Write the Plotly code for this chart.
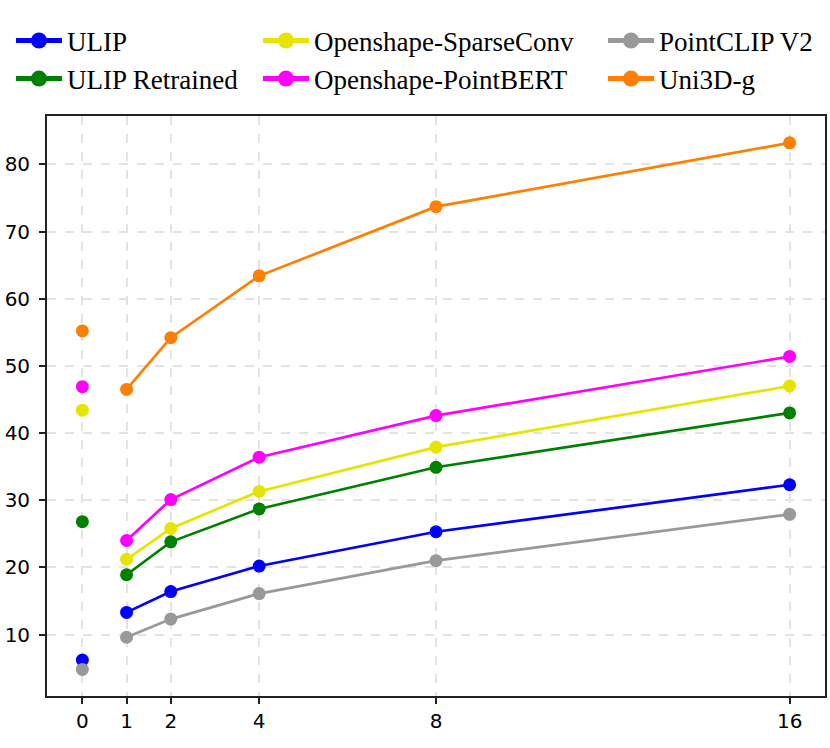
import plotly.graph_objects as go

shots = [0, 1, 2, 4, 8, 16]
tick_labels = ["0", "1", "2", "4", "8", "16"]

ulip = [6.2, 13.3, 16.4, 20.2, 25.3, 32.3]
ulip_retrained = [26.8, 18.9, 23.8, 28.7, 34.9, 43.0]
os_sparseconv = [43.4, 21.2, 25.8, 31.3, 37.9, 47.0]
os_pointbert = [46.9, 24.0, 30.1, 36.4, 42.6, 51.4]
pointclip_v2 = [4.8, 9.6, 12.3, 16.1, 21.0, 27.9]
uni3d_g = [55.2, 46.5, 54.2, 63.4, 73.7, 83.2]

series = [
    ("ULIP", ulip, "#0000ff", "legend"),
    ("ULIP Retrained", ulip_retrained, "#008000", "legend"),
    ("Openshape-SparseConv", os_sparseconv, "#e5e500", "legend2"),
    ("Openshape-PointBERT", os_pointbert, "#ff00ff", "legend2"),
    ("PointCLIP V2", pointclip_v2, "#999999", "legend3"),
    ("Uni3D-g", uni3d_g, "#ff7f00", "legend3"),
]

fig = go.Figure()
for name, vals, color, leg in series:
    # zero-shot point (not connected)
    fig.add_trace(go.Scatter(x=shots[:1], y=vals[:1], mode="markers",
                             marker=dict(color=color, size=13),
                             showlegend=False, hoverinfo="skip"))
    # few-shot line
    fig.add_trace(go.Scatter(x=shots[1:], y=vals[1:], mode="lines+markers",
                             line=dict(color=color, width=2.7),
                             marker=dict(color=color, size=13),
                             showlegend=False, name=name))
    # legend entry
    fig.add_trace(go.Scatter(x=[None], y=[None], mode="lines+markers",
                             line=dict(color=color, width=5),
                             marker=dict(color=color, size=16),
                             name=name, legend=leg, showlegend=True))

legend_common = dict(
    font=dict(family="Liberation Serif, Times New Roman, serif", size=27, color="black"),
    orientation="v", bgcolor="rgba(0,0,0,0)", borderwidth=0,
    xref="paper", yref="container", yanchor="top", xanchor="left",
    itemwidth=46, tracegroupgap=0,
)

fig.update_layout(
    width=830, height=748,
    margin=dict(l=47, r=5, t=116, b=52, autoexpand=False),
    plot_bgcolor="white", paper_bgcolor="white",
    font=dict(family="DejaVu Sans", size=20, color="black"),
    legend=dict(x=-0.0463, y=0.978, **legend_common),
    legend2=dict(x=0.2712, y=0.978, **legend_common),
    legend3=dict(x=0.7147, y=0.978, **legend_common),
    xaxis=dict(
        range=[-0.8, 16.8], tickmode="array", tickvals=shots, ticktext=tick_labels,
        showgrid=True, gridcolor="#e3e3e3", griddash="dash", gridwidth=1.5,
        showline=True, linecolor="#222", linewidth=1.8, mirror=True,
        ticks="outside", ticklen=6, tickwidth=1.5, tickcolor="#222",
        zeroline=False, tickfont=dict(size=20), automargin=False,
    ),
    yaxis=dict(
        range=[0.85, 87.2], tickmode="array", tickvals=[10, 20, 30, 40, 50, 60, 70, 80],
        showgrid=True, gridcolor="#e3e3e3", griddash="dash", gridwidth=1.5,
        showline=True, linecolor="#222", linewidth=1.8, mirror=True,
        ticks="outside", ticklen=6, tickwidth=1.5, tickcolor="#222",
        zeroline=False, tickfont=dict(size=20), automargin=False,
        ticklabelstandoff=5,
    ),
)

fig.write_html("out.html",
               config={"displayModeBar": False},
               post_script="document.body.style.margin='0';document.body.style.overflow='hidden';")
